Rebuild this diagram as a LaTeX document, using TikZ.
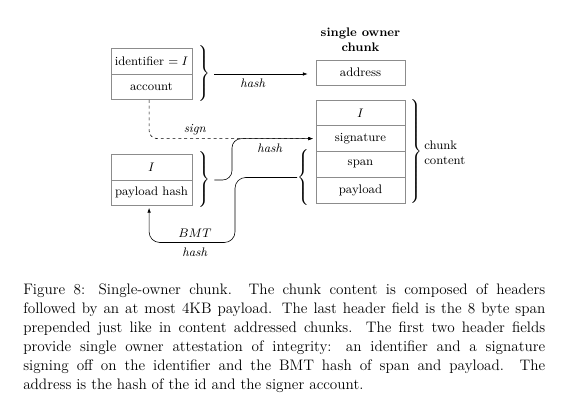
\RequirePackage{fix-cm}
\documentclass[tikz,border=0pt]{standalone}
\usetikzlibrary{arrows.meta}
\newcommand\myRbr[1]{$\delimiterfactor=1000 \delimitershortfall=0pt \left.\vcenter{\hrule height #1 width 0pt}\right\}$}
\newcommand\myLbr[1]{$\delimiterfactor=1000 \delimitershortfall=0pt \left\{\vcenter{\hrule height #1 width 0pt}\right.$}
\begin{document}
\begin{tikzpicture}[x=0.75pt,y=-0.75pt,
  dfont/.style={font=\fontsize{9.3}{11.2}\selectfont},
  cell/.style={draw=black!45, line width=0.4pt, minimum width=60.75pt, minimum height=19.3pt, inner sep=0pt, dfont},
  wcell/.style={cell, minimum width=66.75pt},
  brc/.style={inner sep=0pt, dfont},
  lbl/.style={inner sep=0pt, dfont},
  arr/.style={line width=0.45pt, -{Latex[length=3.6pt,width=2.6pt]}},
  dsh/.style={arr, dash pattern=on 2.2pt off 2.2pt}
]
\useasboundingbox (0,0) rectangle (573,402);

% left top box
\node[cell] (A1) at (151.5,61) {identifier $=I$};
\node[cell] (A2) at (151.5,86.7) {account};
\node[brc, anchor=west] (bA) at (197,74) {\myRbr{39pt}};

% left bottom box
\node[cell] (B1) at (151.5,167) {$I$};
\node[cell] (B2) at (151.5,192.7) {payload hash};
\node[brc, anchor=west] (bB) at (197,180) {\myRbr{38.3pt}};

% single owner chunk
\node[lbl, align=center, font=\fontsize{9.3}{11}\selectfont\bfseries] (title) at (360.5,40) {single owner\\chunk};
\node[wcell, minimum height=18.8pt] (addr) at (360.5,72.5) {address};
\node[wcell] (C1) at (360.5,112.9) {$I$};
\node[wcell] (C2) at (360.5,138.6) {signature};
\node[wcell] (C3) at (360.5,164.3) {span};
\node[wcell] (C4) at (360.5,190) {payload};
\node[brc, anchor=west] (bC) at (409,151.5) {\myRbr{77pt}};
\node[lbl, anchor=west, align=left] (cc) at (424,152.5) {chunk\\content};
\node[brc, anchor=east] (bL) at (311,177.5) {\myLbr{38.3pt}};

% hash to address
\draw[arr, shorten <=2.5pt, shorten >=6pt] (bA.east) -- (bA.east -| addr.west);
\node[lbl] (h1) at (253,83) {\textit{hash}};

% sign
\draw[dsh, rounded corners=6pt, shorten >=2pt] ([xshift=-1.8pt]A2.south) |- (C2.west);
\node[lbl] (sg) at (195,130) {\textit{sign}};

% hash from payload hash
\draw[arr, rounded corners=7pt, shorten <=2.5pt, shorten >=2pt] (bB.east) -- ++(21,0) |- (C2.west);
\node[lbl] (h2) at (270,148) {\textit{hash}};

% BMT hash
\draw[arr, rounded corners=8pt, shorten >=1.5pt] (bL.west) -| ++(-62,65) -| ([xshift=-1.8pt]B2.south);
\node[lbl] (bmt) at (195,233) {$BMT$};
\node[lbl] (h3) at (195,252) {\textit{hash}};

% caption
\node[anchor=north west, inner sep=0pt, text width=391.5pt, align=justify,
  font=\fontsize{11.4}{14.2}\selectfont] (cap) at (23,283.5)
{Figure 8: Single-owner chunk. The chunk content is composed of headers\linebreak
followed by an at most 4KB payload. The last header field is the 8 byte span\linebreak
prepended just like in content addressed chunks. The first two header fields\linebreak
provide single owner attestation of integrity: an identifier and a signature\linebreak
signing off on the identifier and the BMT hash of span and payload. The\linebreak
address is the hash of the id and the signer account.};
\end{tikzpicture}
\end{document}
